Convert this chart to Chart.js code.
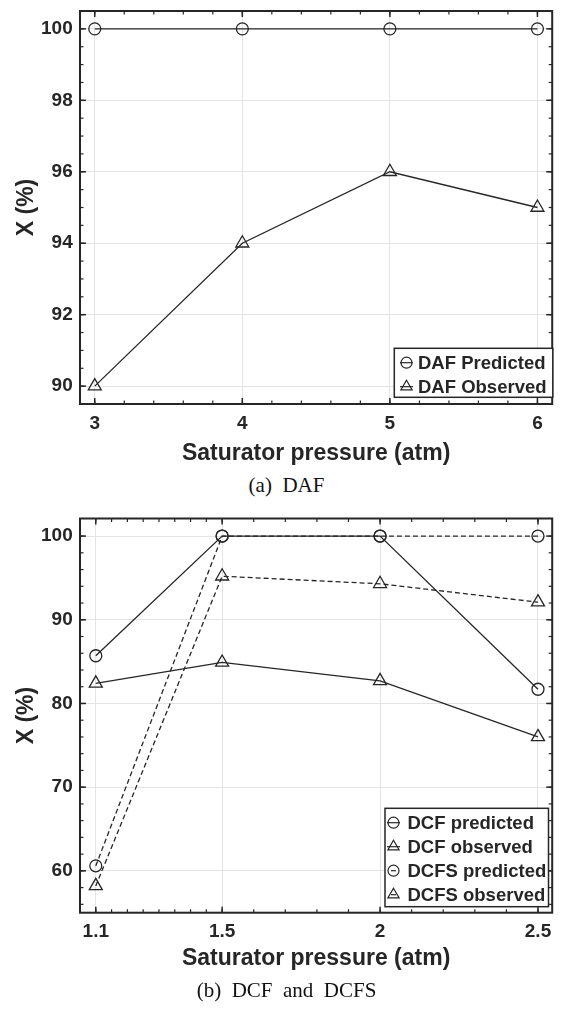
<!DOCTYPE html>
<html>
<head>
<meta charset="utf-8">
<script src="https://cdn.jsdelivr.net/npm/chart.js@4.4.0/dist/chart.umd.min.js"></script>
<style>
  body { margin: 0; background: #fff; width: 561px; height: 1010px; position: relative; overflow: hidden; }
  .box { position: absolute; left: 0; width: 561px; }
  .cap { position: absolute; left: 0; width: 573px; text-align: center; font-family: "Liberation Serif", "Times New Roman", serif; font-size: 21px; line-height: 1; color: #111; white-space: pre; }
</style>
</head>
<body>
<div class="box" style="top:0;height:470px"><canvas id="dafChart" width="561" height="470"></canvas></div>
<div class="cap" style="top:475px">(a)  DAF</div>
<div class="box" style="top:500px;height:480px"><canvas id="dcfChart" width="561" height="480"></canvas></div>
<div class="cap" style="top:980px">(b)  DCF  and  DCFS</div>

<script>
// (a) DAF
var dafPressure = [3, 4, 5, 6];
var dafPredicted = [100, 100, 100, 100];
var dafObserved = [90, 94, 96, 95];
var dafXTicks = [3, 4, 5, 6];
var dafYTicks = [90, 92, 94, 96, 98, 100];

// (b) DCF and DCFS
var dcfPressure = [1.1, 1.5, 2, 2.5];
var dcfPredicted = [85.7, 100, 100, 81.7];
var dcfObserved = [82.4, 84.9, 82.7, 76.0];
var dcfsPredicted = [60.6, 100, 100, 100];
var dcfsObserved = [58.2, 95.2, 94.3, 92.1];
var dcfXTicks = [1.1, 1.5, 2, 2.5];
var dcfYTicks = [60, 70, 80, 90, 100];

var ink = '#262626';
var sans = '"Liberation Sans", Arial, sans-serif';

function pts(xs, ys) {
  return xs.map(function (x, i) { return { x: x, y: ys[i] }; });
}

function series(label, xs, ys, shape, dashed) {
  return {
    label: label,
    data: pts(xs, ys),
    borderColor: ink,
    borderWidth: 1.3,
    borderDash: dashed ? [5, 3] : [],
    pointStyle: shape,
    pointRadius: shape === 'triangle' ? 7.5 : 6,
    pointBorderColor: ink,
    pointBackgroundColor: 'rgba(0,0,0,0)',
    pointBorderWidth: 1.3,
    tension: 0,
    fill: false
  };
}

function steps(from, to, step) {
  var out = [];
  for (var v = from; v <= to + 1e-9; v += step) out.push(Math.round(v * 1000) / 1000);
  return out;
}

// box, inward ticks on all four sides, and the legend inside the axes
var framePlugin = {
  id: 'frame',
  afterDraw: function (chart) {
    var o = chart.options.plugins.frame;
    var a = chart.chartArea, ctx = chart.ctx;
    var sx = chart.scales.x, sy = chart.scales.y;
    ctx.save();
    ctx.strokeStyle = ink;
    function seg(x1, y1, x2, y2) { ctx.beginPath(); ctx.moveTo(x1, y1); ctx.lineTo(x2, y2); ctx.stroke(); }
    function tx(v, len) {
      var p = sx.getPixelForValue(v);
      if (p <= a.left + 1 || p >= a.right - 1) return;
      seg(p, a.bottom, p, a.bottom - len); seg(p, a.top, p, a.top + len);
    }
    function ty(v, len) {
      var p = sy.getPixelForValue(v);
      if (p <= a.top + 1 || p >= a.bottom - 1) return;
      seg(a.left, p, a.left + len, p); seg(a.right, p, a.right - len, p);
    }
    ctx.lineWidth = 1.2;
    o.minorX.forEach(function (v) { tx(v, 3.5); });
    o.minorY.forEach(function (v) { ty(v, 3.5); });
    ctx.lineWidth = 1.5;
    o.majorX.forEach(function (v) { tx(v, 6); });
    o.majorY.forEach(function (v) { ty(v, 6); });
    ctx.lineWidth = 2;
    ctx.strokeRect(a.left, a.top, a.width, a.height);

    // legend
    var L = o.legend;
    var sets = chart.data.datasets;
    ctx.fillStyle = '#fff';
    ctx.fillRect(L.left, L.top, L.right - L.left, L.bottom - L.top);
    ctx.lineWidth = 1.5;
    ctx.strokeStyle = ink;
    ctx.strokeRect(L.left, L.top, L.right - L.left, L.bottom - L.top);
    ctx.font = 'bold 18.5px ' + sans;
    ctx.textBaseline = 'middle';
    ctx.textAlign = 'left';
    sets.forEach(function (ds, i) {
      var y = L.top + 14.4 + i * 24;
      ctx.strokeStyle = ink;
      ctx.lineWidth = 1.2;
      if (ds.borderDash.length) {
        seg(L.markX - 2.5, y, L.markX + 2.5, y);
      } else {
        seg(L.markX - 6.5, y, L.markX + 6.5, y);
      }
      ctx.fillStyle = 'rgba(0,0,0,0)';
      ctx.lineWidth = 1.2;
      Chart.helpers.drawPoint(ctx, {
        pointStyle: ds.pointStyle,
        radius: ds.pointStyle === 'triangle' ? 6.5 : 5.5,
        rotation: 0,
        borderWidth: 1.2
      }, L.markX, y);
      ctx.fillStyle = ink;
      ctx.fillText(ds.label, L.textX, y + 1);
    });
    ctx.restore();
  }
};

function scales(xr, yr, xt, yt, xAxisH, xTitlePad) {
  var tickFont = { family: sans, size: 19, weight: 'bold' };
  var titleFont = { family: sans, size: 23, weight: 'bold' };
  return {
    x: {
      type: 'linear', min: xr[0], max: xr[1],
      afterBuildTicks: function (s) { s.ticks = xt.map(function (v) { return { value: v }; }); },
      afterFit: function (s) { s.height = xAxisH; s.paddingLeft = 0; s.paddingRight = 0; },
      grid: { color: '#e4e4e4', lineWidth: 1, drawTicks: false },
      border: { display: false },
      ticks: { padding: 8, color: ink, font: tickFont, maxRotation: 0, autoSkip: false,
        callback: function (v) { return String(v); } },
      title: { display: true, text: 'Saturator pressure (atm)', color: ink, font: titleFont,
        padding: { top: 0, bottom: xTitlePad } }
    },
    y: {
      type: 'linear', min: yr[0], max: yr[1],
      afterBuildTicks: function (s) { s.ticks = yt.map(function (v) { return { value: v }; }); },
      afterFit: function (s) { s.width = 80; s.paddingTop = 0; s.paddingBottom = 0; },
      grid: { color: '#e4e4e4', lineWidth: 1, drawTicks: false },
      border: { display: false },
      ticks: { padding: 7.3, color: ink, font: tickFont, autoSkip: false,
        callback: function (v) { return String(v); } },
      title: { display: true, text: 'X (%)', color: ink, font: titleFont,
        padding: { top: 13.2, bottom: 0 } }
    }
  };
}

new Chart(document.getElementById('dafChart').getContext('2d'), {
  type: 'line',
  data: {
    datasets: [
      series('DAF Predicted', dafPressure, dafPredicted, 'circle', false),
      series('DAF Observed', dafPressure, dafObserved, 'triangle', false)
    ]
  },
  options: {
    responsive: false,
    animation: false,
    layout: { padding: { top: 11, right: 4, left: 0, bottom: 0 } },
    scales: scales([2.9, 6.1], [89.5, 100.5], dafXTicks, dafYTicks, 66, 2.2),
    plugins: {
      legend: { display: false },
      tooltip: { enabled: false },
      frame: {
        majorX: dafXTicks, majorY: dafYTicks,
        minorX: steps(3, 6, 0.2), minorY: steps(90, 100, 0.5),
        legend: { left: 394.3, top: 348.3, right: 552.8, bottom: 397.3, markX: 406.5, textX: 418 }
      }
    }
  },
  plugins: [framePlugin]
});

new Chart(document.getElementById('dcfChart').getContext('2d'), {
  type: 'line',
  data: {
    datasets: [
      series('DCF predicted', dcfPressure, dcfPredicted, 'circle', false),
      series('DCF observed', dcfPressure, dcfObserved, 'triangle', false),
      series('DCFS predicted', dcfPressure, dcfsPredicted, 'circle', true),
      series('DCFS observed', dcfPressure, dcfsObserved, 'triangle', true)
    ]
  },
  options: {
    responsive: false,
    animation: false,
    layout: { padding: { top: 18.5, right: 4.6, left: 0, bottom: 0 } },
    scales: scales([1.05, 2.545], [55, 102.1], dcfXTicks, dcfYTicks, 67.3, 7.2),
    plugins: {
      legend: { display: false },
      tooltip: { enabled: false },
      frame: {
        majorX: dcfXTicks, majorY: dcfYTicks,
        minorX: steps(1.1, 1.5, 0.05).concat(steps(1.6, 2.5, 0.1)), minorY: steps(56, 100, 2),
        legend: { left: 385, top: 308.3, right: 548.5, bottom: 406.7, markX: 393.5, textX: 407.5 }
      }
    }
  },
  plugins: [framePlugin]
});
</script>
</body>
</html>
